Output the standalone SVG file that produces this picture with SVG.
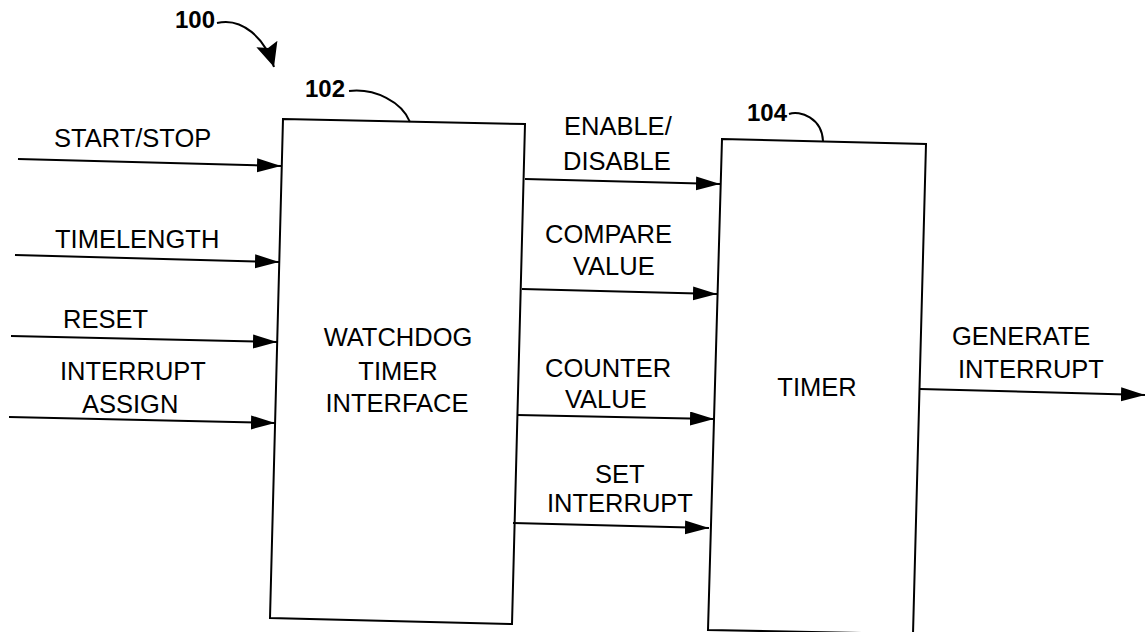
<svg xmlns="http://www.w3.org/2000/svg" width="1146" height="632" viewBox="0 0 1146 632">
<defs>
<style>
.t{font-family:"Liberation Sans",Arial,sans-serif;font-size:25.5px;fill:#000}
.b{font-family:"Liberation Sans",Arial,sans-serif;font-size:24px;font-weight:bold;fill:#000}
.ln{stroke:#000;stroke-width:2;fill:none}
.box{stroke:#000;stroke-width:2;fill:#fff}
</style>
<marker id="ah" markerUnits="userSpaceOnUse" markerWidth="26" markerHeight="16" refX="24" refY="7" orient="auto">
<path d="M0,0 L24,7 L0,14 Z" fill="#000"/>
</marker>
<marker id="ah2" markerUnits="userSpaceOnUse" markerWidth="30" markerHeight="26" refX="24" refY="11" orient="auto">
<path d="M0,0 L24,11 L0,22 L4,11 Z" fill="#000"/>
</marker>
</defs>
<g id="ref100">
<text class="b" x="175" y="28">100</text>
<path class="ln" d="M217,23 C242,17 265,38 274,67" marker-end="url(#ah2)"/>
</g>
<g id="node102">
<polygon class="box" points="283,119 525,124 512,624 270,618"/>
<text class="t" x="398" y="346" text-anchor="middle">WATCHDOG</text>
<text class="t" x="398" y="380" text-anchor="middle">TIMER</text>
<text class="t" x="397" y="412" text-anchor="middle">INTERFACE</text>
<text class="b" x="305" y="97">102</text>
<path class="ln" d="M349,91 C375,88 402,102 410,122" stroke-width="1.5"/>
</g>
<g id="node104">
<polygon class="box" points="722,139 926,144 913,634 708,630"/>
<text class="t" x="817" y="396" text-anchor="middle">TIMER</text>
<text class="b" x="747" y="121">104</text>
<path class="ln" d="M789,114 C800,110 822,118 823,141" stroke-width="1.5"/>
</g>
<g id="connectors">
<path class="ln" d="M18,159 L281,166" marker-end="url(#ah)"/>
<path class="ln" d="M15,255 L279,262" marker-end="url(#ah)"/>
<path class="ln" d="M11,336 L277,342" marker-end="url(#ah)"/>
<path class="ln" d="M9,417 L275,423" marker-end="url(#ah)"/>
<path class="ln" d="M525,179 L720,184" marker-end="url(#ah)"/>
<path class="ln" d="M522,289 L717,294" marker-end="url(#ah)"/>
<path class="ln" d="M517,415 L714,419" marker-end="url(#ah)"/>
<path class="ln" d="M513,523 L709,528" marker-end="url(#ah)"/>
<path class="ln" d="M920,389 L1145,395" marker-end="url(#ah)"/>
</g>
<g id="labels">
<text class="t" x="54" y="147">START/STOP</text>
<text class="t" x="55" y="248">TIMELENGTH</text>
<text class="t" x="63" y="328">RESET</text>
<text class="t" x="60" y="380">INTERRUPT</text>
<text class="t" x="82" y="413">ASSIGN</text>
<text class="t" x="564" y="135">ENABLE/</text>
<text class="t" x="563" y="170">DISABLE</text>
<text class="t" x="545" y="243">COMPARE</text>
<text class="t" x="573" y="275">VALUE</text>
<text class="t" x="545" y="377">COUNTER</text>
<text class="t" x="565" y="408">VALUE</text>
<text class="t" x="595" y="483">SET</text>
<text class="t" x="547" y="512">INTERRUPT</text>
<text class="t" x="952" y="345">GENERATE</text>
<text class="t" x="958" y="378">INTERRUPT</text>
</g>
</svg>
